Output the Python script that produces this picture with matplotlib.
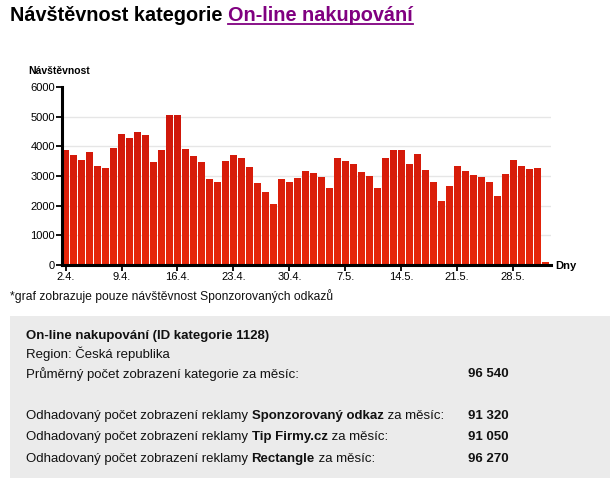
import numpy as np
import matplotlib
matplotlib.use("Agg")
import matplotlib.pyplot as plt
from matplotlib.colors import LinearSegmentedColormap
from matplotlib.lines import Line2D
from matplotlib.patches import Rectangle

plt.rcParams['font.family'] = ['Liberation Sans', 'DejaVu Sans']

# denní návštěvnost 2.4. - 1.6.
visits = [3870, 3700, 3530, 3800, 3330, 3270, 3930, 4400, 4270, 4470,
          4370, 3470, 3870, 5070, 5070, 3900, 3670, 3470, 2900, 2800,
          3500, 3700, 3600, 3300, 2770, 2470, 2070, 2900, 2800, 2930,
          3170, 3100, 2970, 2600, 3600, 3500, 3400, 3130, 3000, 2600,
          3600, 3870, 3870, 3400, 3730, 3200, 2800, 2170, 2670, 3330,
          3170, 3030, 2970, 2800, 2330, 3070, 3530, 3330, 3230, 3270,
          100]
tick_labels = ["2.4.", "9.4.", "16.4.", "23.4.", "30.4.", "7.5.", "14.5.", "21.5.", "28.5."]
y_ticks = [0, 1000, 2000, 3000, 4000, 5000, 6000]

info_rows = [
    ["Odhadovaný počet zobrazení reklamy ", "Sponzorovaný odkaz", " za měsíc:"],
    ["Odhadovaný počet zobrazení reklamy ", "Tip Firmy.cz", " za měsíc:"],
    ["Odhadovaný počet zobrazení reklamy ", "Rectangle", " za měsíc:"],
]
info_values = ["91 320", "91 050", "96 270"]
avg_value = "96 540"

W, H = 613, 488
fig = plt.figure(figsize=(W / 100, H / 100), dpi=100)
r = fig.canvas.get_renderer()


def px(x, y):
    # pixelove souradnice (od leveho horniho rohu) -> figure fraction
    return x / W, 1 - y / H


def text_row(x, y, segments, weights, **kw):
    # segmenty textu za sebou, kazdy muze mit jinou tloustku pisma
    xx = x
    out = []
    for seg, wt in zip(segments, weights):
        t = fig.text(*px(xx, y), seg, fontweight=wt, **kw)
        xx = t.get_window_extent(r).x1
        out.append(t)
    return out


# --- titulek ---
t1, t2 = text_row(10, 21, ["Návštěvnost kategorie ", "On-line nakupování"], ['bold', 'bold'],
                  fontsize=14.3, va='baseline')
t2.set_color('#800080')
bb2 = t2.get_window_extent(r)
uy = (H - 23.5) / H
fig.add_artist(Line2D([bb2.x0 / W, bb2.x1 / W], [uy, uy], color='#800080', lw=1.3))

# --- graf ---
left, right, top, bottom = 62, 551, 87, 265
ax = fig.add_axes([left / W, 1 - bottom / H, (right - left) / W, (bottom - top) / H])
x = np.arange(len(visits))
bars = ax.bar(x, visits, width=0.86, color='none', edgecolor='none', zorder=2)

cmap = LinearSegmentedColormap.from_list('rd', ['#e8280a', '#c8120a'])
grad = np.linspace(0, 1, 256).reshape(-1, 1)
for b in bars:
    im = ax.imshow(grad, cmap=cmap, origin='lower', aspect='auto',
                   extent=[-0.45, 60.75, 0, 6000], zorder=2)
    im.set_clip_path(b)

ax.set_xlim(-0.45, 60.75)
ax.set_ylim(0, 6000)
ax.set_yticks(y_ticks)
ax.set_xticks(np.arange(0, 57, 7))
ax.set_xticklabels(tick_labels)
ax.tick_params(axis='both', labelsize=8, length=4, width=1.3, color='black', pad=1)
for yv in y_ticks[1:-1]:
    ax.axhline(yv, color='#e6e6e6', lw=1, zorder=1)
for s in ['top', 'right']:
    ax.spines[s].set_visible(False)
ax.spines['left'].set_linewidth(2.2)
ax.spines['bottom'].set_linewidth(2.2)

fig.text(*px(28, 71), "Návštěvnost", fontsize=7.5, fontweight='bold', va='center')
fig.text(*px(555, 266), "Dny", fontsize=8, fontweight='bold', va='center')

fig.text(*px(10, 296), "*graf zobrazuje pouze návštěvnost Sponzorovaných odkazů",
         fontsize=8.7, va='center', color='#111111')

# --- info box ---
fig.add_artist(Rectangle(px(10, 478), 600 / W, 162 / H, transform=fig.transFigure,
                         facecolor='#ebebeb', edgecolor='none', zorder=0))
fs = 9.5
kw = dict(fontsize=fs, va='center', color='#111111')
fig.text(*px(26, 336), "On-line nakupování (ID kategorie 1128)", fontweight='bold', **kw)
fig.text(*px(26, 354), "Region: Česká republika", **kw)
fig.text(*px(26, 374), "Průměrný počet zobrazení kategorie za měsíc:", **kw)
fig.text(*px(468, 374), avg_value, fontweight='bold', **kw)

for row, val, yy in zip(info_rows, info_values, [416, 437, 459]):
    text_row(26, yy, row, ['normal', 'bold', 'normal'], **kw)
    fig.text(*px(468, yy), val, fontweight='bold', **kw)

fig.savefig("out.png", dpi=100)
